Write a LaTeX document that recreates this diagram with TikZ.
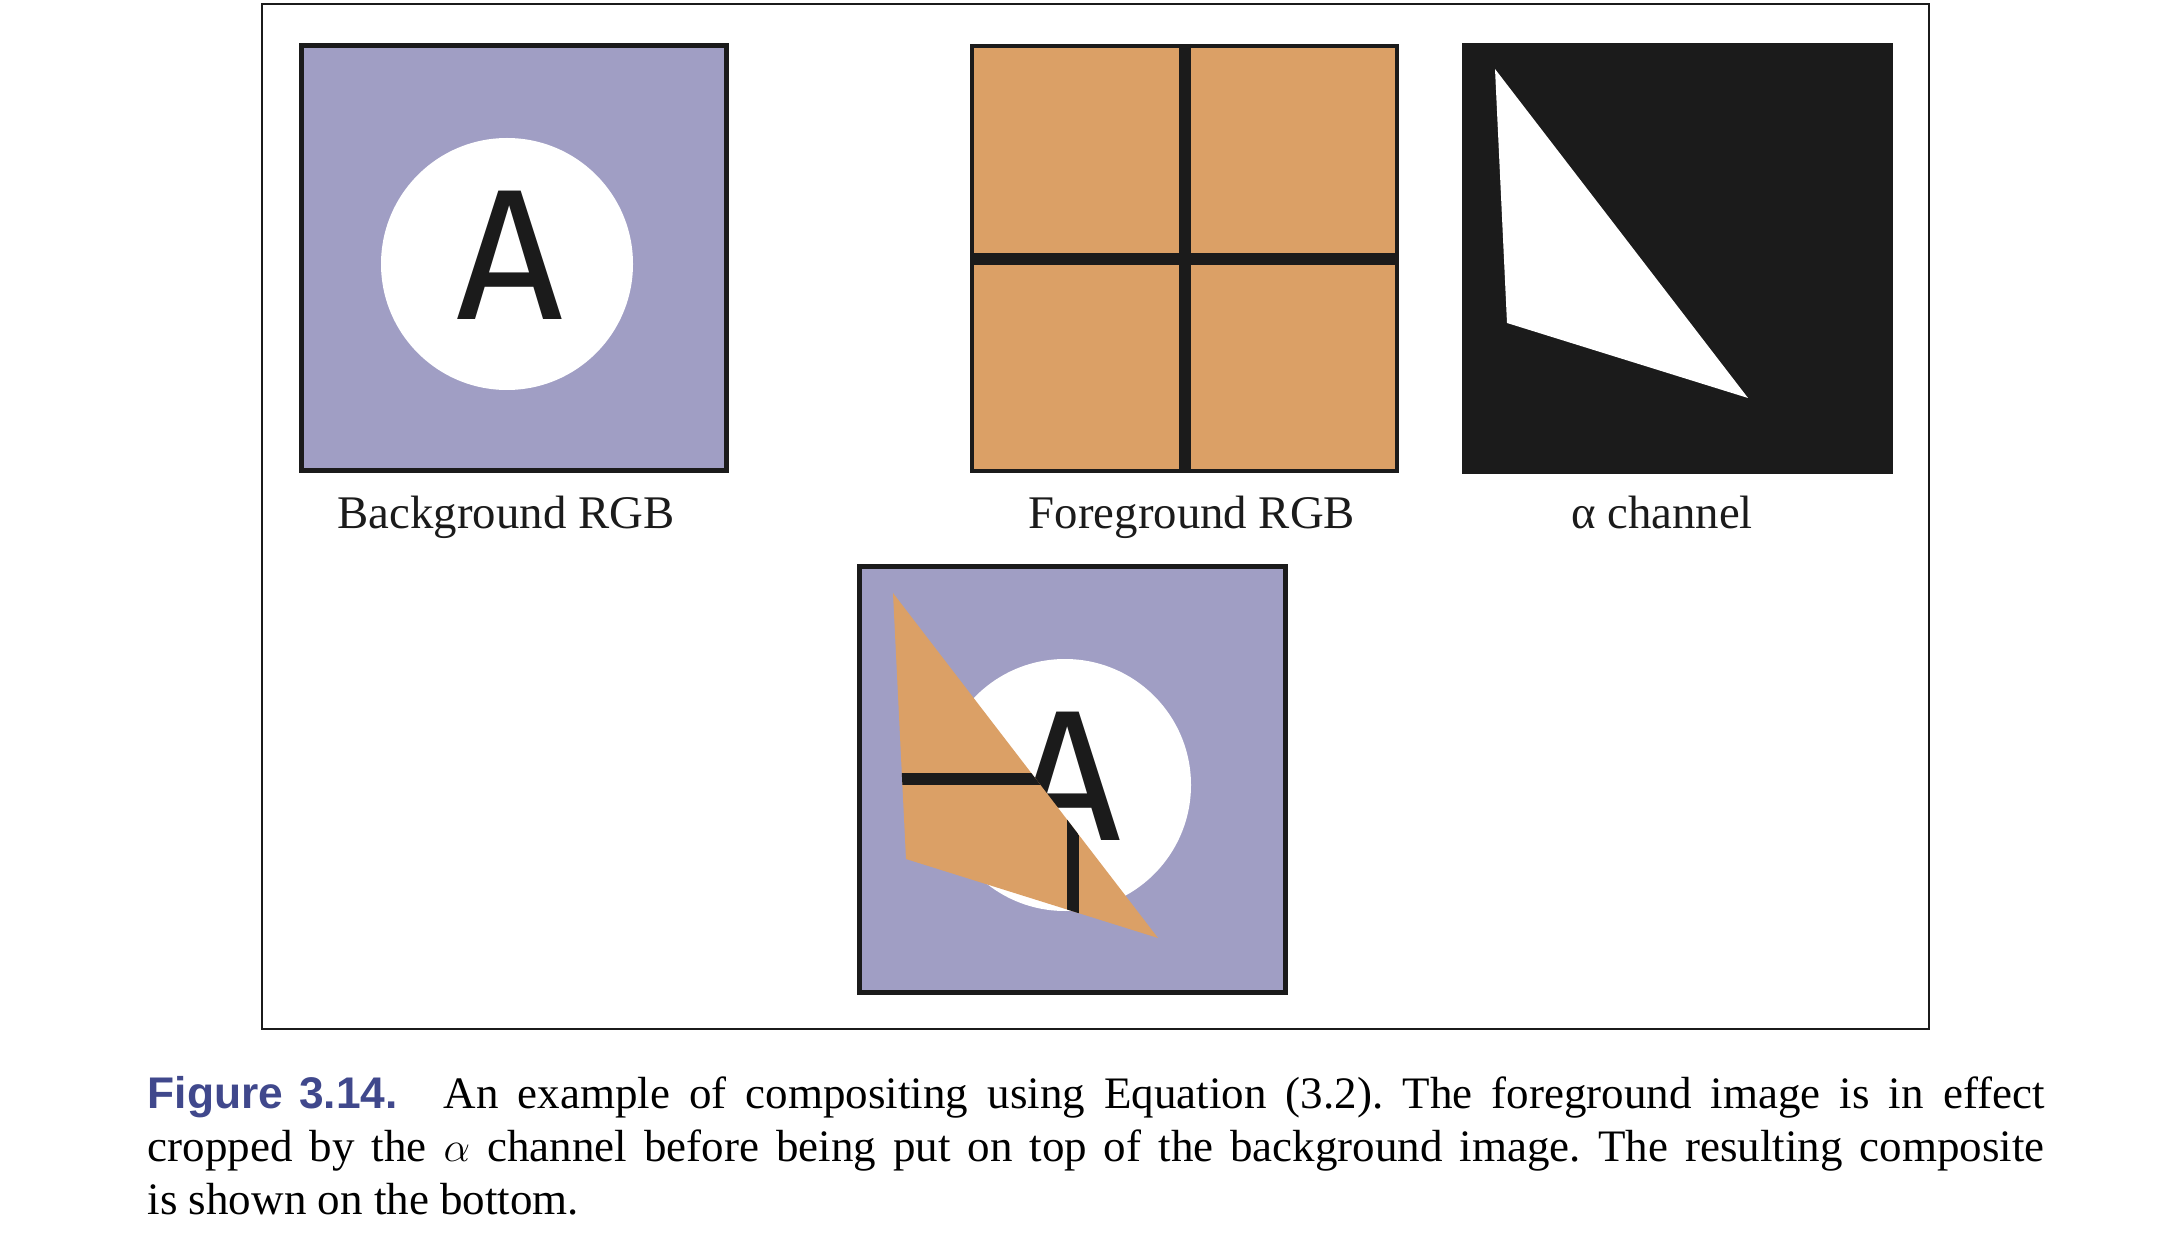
\documentclass[tikz,border=0pt]{standalone}
\usepackage{fontspec}
\setmainfont{Liberation Serif}
\newfontfamily\capfont{Liberation Sans}
\newfontfamily\glyphfont{Fira Sans}

\definecolor{bgpurple}{RGB}{160,158,196}
\definecolor{fgorange}{RGB}{219,160,102}
\definecolor{ink}{RGB}{27,27,27}
\definecolor{capblue}{RGB}{64,72,140}

\tikzset{
  border/.style={draw=ink,line width=1.4pt},
  crossbar/.style={draw=ink,line width=3.2pt},
  imglabel/.style={anchor=base,inner sep=0pt,text=ink,font=\fontsize{13.3}{15}\selectfont},
  letter/.style={inner sep=0pt,text=ink,font=\glyphfont\fontsize{53}{53}\selectfont},
}

\begin{document}
\begin{tikzpicture}[x=0.01cm,y=-0.01cm]
  \useasboundingbox (0,0) rectangle (2160,1252);
  \draw[ink,line width=0.7pt] (262,4) rectangle (1929,1029);

  \begin{scope}[shift={(299,43)}]
    \fill[bgpurple] (0,0) rectangle (430,430);
    \fill[white] (208,221) circle[radius=126];
    \node[letter] (bgA) at (211,212) {A};
    \draw[border] (2.5,2.5) rectangle (427.5,427.5);
  \end{scope}

  \begin{scope}[shift={(970,44)}]
    \fill[fgorange] (0,0) rectangle (429,429);
    \draw[crossbar] (215,0) -- (215,429) (0,215) -- (429,215);
    \draw[border] (2,2) rectangle (427,427);
  \end{scope}

  \begin{scope}[shift={(1462,43)}]
    \coordinate (a1) at (33,26);
    \coordinate (a2) at (45,280);
    \coordinate (a3) at (286,355);
    \fill[ink] (0,0) rectangle (431,431);
    \fill[white] (a1) -- (a2) -- (a3) -- cycle;
  \end{scope}

  \node[imglabel] (bglabel) at (506,528) {Background RGB};
  \node[imglabel] (fglabel) at (1192,528) {Foreground RGB};
  \node[imglabel] (alphalabel) at (1662,528) {α channel};

  \begin{scope}[shift={(857,564)}]
    \coordinate (c1) at (36,29);
    \coordinate (c2) at (49,295);
    \coordinate (c3) at (301,374);
    \fill[bgpurple] (0,0) rectangle (431,431);
    \fill[white] (208,221) circle[radius=126];
    \node[letter] (compA) at (211,212) {A};
    \begin{scope}
      \clip (c1) -- (c2) -- (c3) -- cycle;
      \fill[fgorange] (0,0) rectangle (431,431);
      \draw[crossbar] (216,0) -- (216,431) (0,215) -- (431,215);
    \end{scope}
    \draw[border] (2.5,2.5) rectangle (428.5,428.5);
  \end{scope}

  \node[anchor=base west,inner sep=0pt,text width=539.4pt,align=justify,
        font=\fontsize{12.8}{15.1}\selectfont\frenchspacing] (caption) at (147,1108)
    {\hbox{\capfont\fontsize{12.6}{15.1}\selectfont\bfseries\color{capblue}Figure\hspace{4.6pt}3.14.}\hspace{13pt}An example of compositing using Equation (3.2). The foreground image is in effect\linebreak
     cropped by the $\alpha$ channel before being put on top of the background image. The resulting composite\linebreak
     is shown on the bottom.};
\end{tikzpicture}
\end{document}
